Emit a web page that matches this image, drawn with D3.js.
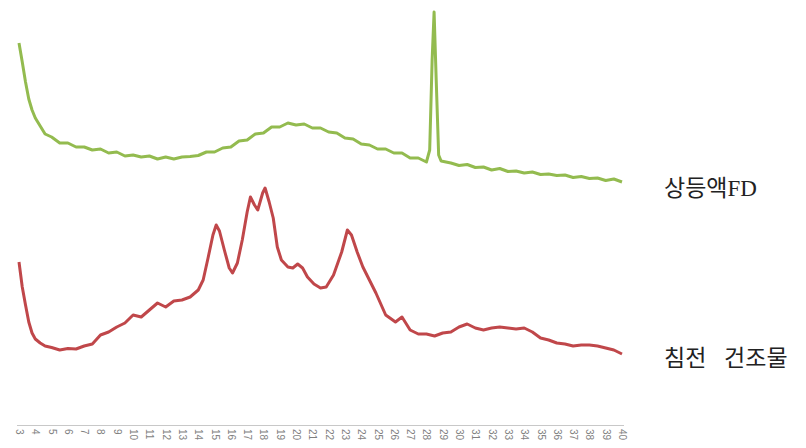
<!DOCTYPE html>
<html>
<head>
<meta charset="utf-8">
<script src="https://cdn.jsdelivr.net/npm/d3@7"></script>
<style>
  body { margin: 0; background: #fff; }
  .axis path, .axis line { stroke: #c8c8c8; }
  .axis text { fill: #7f7f7f; font-family: "Liberation Sans", sans-serif; font-size: 10px; }
  .label { font-family: "Liberation Serif", "Noto Sans CJK KR", serif; font-size: 23px; fill: #222; }
</style>
</head>
<body>
<svg width="806" height="448"></svg>
<script>
// 2-theta (deg) tick labels
var ticks = d3.range(3, 41);

// 상등액FD
var greenX = [3.0, 3.2, 3.4, 3.6, 3.8, 4.0, 4.3, 4.6, 5.0, 5.5, 6.0, 6.5, 7.0, 7.5, 8.0, 8.5, 9.0, 9.5, 10, 10.5,
  11, 11.5, 12, 12.5, 13, 13.5, 14, 14.5, 15, 15.5, 16, 16.5, 17, 17.5, 18, 18.5, 19, 19.5, 20, 20.5,
  21, 21.5, 22, 22.5, 23, 23.5, 24, 24.5, 25, 25.5, 26, 26.5, 27, 27.5, 28, 28.2, 28.35, 28.47, 28.6, 28.75,
  28.9, 29.5, 30, 30.5, 31, 31.5, 32, 32.5, 33, 33.5, 34, 34.5, 35, 35.5, 36, 36.5, 37, 37.5, 38, 38.5, 39, 39.5, 40];
var greenY = [3970, 3780, 3580, 3410, 3300, 3220, 3140, 3060, 3030, 2970, 2970, 2930, 2930, 2900, 2910, 2870, 2880, 2840, 2850, 2830,
  2840, 2810, 2830, 2810, 2830, 2835, 2845, 2880, 2880, 2920, 2930, 2990, 3000, 3060, 3070, 3130, 3130, 3170, 3150, 3160,
  3120, 3120, 3080, 3070, 3020, 3010, 2960, 2950, 2910, 2910, 2870, 2870, 2820, 2820, 2780, 2900, 3800, 4280, 3600, 2850,
  2790, 2770, 2745, 2755, 2725, 2730, 2700, 2715, 2685, 2690, 2670, 2680, 2655, 2660, 2645, 2650, 2625, 2635, 2615, 2620, 2595, 2610, 2580];

// 침전 건조물
var redX = [3.0, 3.2, 3.4, 3.6, 3.8, 4.0, 4.3, 4.6, 5.0, 5.5, 6.0, 6.5, 7.0, 7.5, 8.0, 8.5, 9.0, 9.5, 10, 10.5,
  11, 11.5, 12, 12.5, 13, 13.5, 14, 14.3, 14.6, 14.9, 15.1, 15.3, 15.6, 15.9, 16.1, 16.4, 16.7, 17.0, 17.2, 17.45,
  17.65, 17.95, 18.1, 18.35, 18.6, 18.85, 19.1, 19.5, 19.8, 20.1, 20.4, 20.7, 21.1, 21.5, 21.85, 22.3, 22.8, 23.15, 23.4, 23.75,
  24.1, 24.5, 24.9, 25.5, 26.1, 26.5, 27.0, 27.5, 28, 28.5, 29, 29.5, 30, 30.5, 31, 31.5, 32, 32.5, 33, 33.5,
  34, 34.5, 35, 35.5, 36, 36.5, 37, 37.5, 38, 38.5, 39, 39.5, 40];
var redY = [1780, 1530, 1350, 1180, 1070, 1010, 970, 940, 925, 900, 915, 910, 940, 960, 1050, 1080, 1130, 1170, 1250, 1230,
  1300, 1370, 1330, 1390, 1400, 1430, 1500, 1600, 1820, 2050, 2150, 2090, 1900, 1720, 1670, 1770, 2000, 2280, 2430, 2350,
  2300, 2470, 2520, 2380, 2220, 1930, 1800, 1730, 1720, 1760, 1720, 1630, 1560, 1520, 1530, 1650, 1880, 2100, 2050, 1880,
  1730, 1600, 1470, 1250, 1180, 1230, 1100, 1060, 1060, 1040, 1070, 1080, 1130, 1160, 1120, 1100, 1120, 1130, 1120, 1110,
  1120, 1080, 1020, 1000, 970, 960, 940, 950, 950, 940, 920, 900, 860];

var svg = d3.select("svg");

var x = d3.scaleLinear().domain([3, 40]).range([19, 622]);
var y = d3.scaleLinear().domain([0, 4400]).range([440, 0]);

var line = d3.line()
    .x(function(d) { return x(d[0]); })
    .y(function(d) { return y(d[1]); });

svg.append("path")
    .datum(d3.zip(greenX, greenY))
    .attr("fill", "none")
    .attr("stroke", "#93bb4f")
    .attr("stroke-width", 3)
    .attr("stroke-linejoin", "round")
    .attr("d", line);

svg.append("path")
    .datum(d3.zip(redX, redY))
    .attr("fill", "none")
    .attr("stroke", "#c0474a")
    .attr("stroke-width", 3)
    .attr("stroke-linejoin", "round")
    .attr("d", line);

var axis = svg.append("g")
    .attr("class", "axis")
    .attr("transform", "translate(0,425)")
    .call(d3.axisBottom(x).tickValues(ticks).tickFormat(d3.format("d")).tickSize(0).tickPadding(0));

axis.select(".domain").attr("d", "M17,0.5H624");

axis.selectAll("text")
    .attr("transform", "rotate(90)")
    .attr("x", 4)
    .attr("y", 0)
    .attr("dy", "0.35em")
    .attr("text-anchor", "start");

svg.append("text")
    .attr("class", "label")
    .attr("x", 664)
    .attr("y", 196)
    .text("상등액FD");

svg.append("text")
    .attr("class", "label")
    .attr("x", 664)
    .attr("y", 366)
    .attr("word-spacing", "12px")
    .text("침전 건조물");
</script>
</body>
</html>
